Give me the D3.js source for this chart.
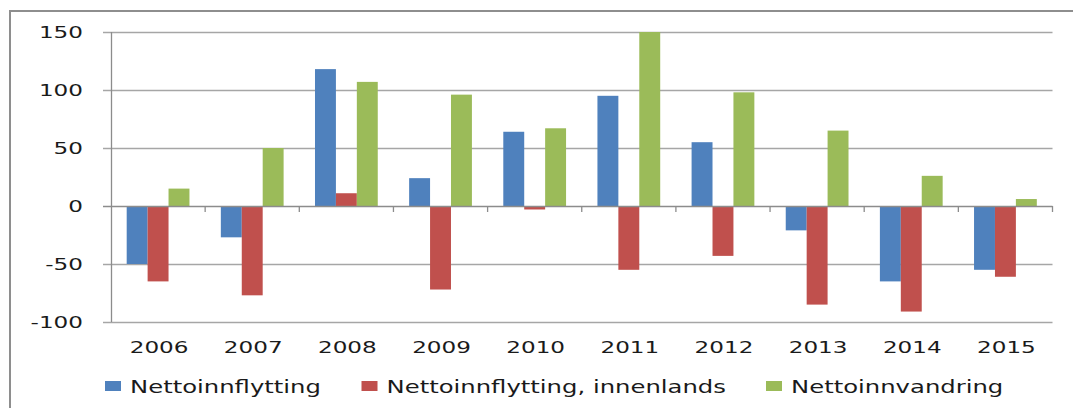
<!DOCTYPE html>
<html>
<head>
<meta charset="utf-8">
<script src="https://cdn.jsdelivr.net/npm/d3@7"></script>
<style>
  html, body { margin: 0; padding: 0; background: #fff; }
  svg { display: block; }
  text { font-family: "DejaVu Sans", sans-serif; fill: #1a1a1a; }
</style>
</head>
<body>
<svg id="chart" width="1073" height="408"></svg>
<script>
const years = ["2006","2007","2008","2009","2010","2011","2012","2013","2014","2015"];
const seriesNames = ["Nettoinnflytting", "Nettoinnflytting, innenlands", "Nettoinnvandring"];
const nettoinnflytting = [-50, -27, 118, 24, 64, 95, 55, -21, -65, -55];
const innenlands = [-65, -77, 11, -72, -3, -55, -43, -85, -91, -61];
const innvandring = [15, 50, 107, 96, 67, 150, 98, 65, 26, 6];
const yTicks = [-100, -50, 0, 50, 100, 150];
const colors = ["#4F81BD", "#C0504D", "#9BBB59"];

const seriesValues = [nettoinnflytting, innenlands, innvandring];
const svg = d3.select("#chart");

// frame
svg.append("path")
  .attr("d", "M10,408 V11 H1073")
  .attr("fill", "none").attr("stroke", "#8e8e8e").attr("stroke-width", 2);

const x = d3.scaleBand().domain(years).range([111, 1052.5]).padding(0);
const xs = d3.scaleBand().domain(d3.range(3)).range([0, x.bandwidth()]).paddingInner(0).paddingOuter(0.75);
const y = d3.scaleLinear().domain([-100, 150]).range([322, 32]);

// gridlines (excluding zero which is the category axis)
svg.append("g").selectAll("line").data(yTicks.filter(t => t !== 0)).join("line")
  .attr("x1", 103).attr("x2", 1052.5)
  .attr("y1", d => Math.round(y(d)) + 0.5).attr("y2", d => Math.round(y(d)) + 0.5)
  .attr("stroke", "#a6a6a6").attr("stroke-width", 1.3);

// bars
const groups = svg.append("g").selectAll("g").data(years).join("g")
  .attr("transform", d => `translate(${x(d)},0)`);
groups.selectAll("rect").data((d, i) => seriesValues.map((s, k) => ({k, v: s[i]}))).join("rect")
  .attr("x", d => xs(d.k))
  .attr("width", xs.bandwidth())
  .attr("y", d => y(Math.max(0, d.v)))
  .attr("height", d => Math.abs(y(d.v) - y(0)))
  .attr("fill", d => colors[d.k]);

// y axis line + ticks
svg.append("line").attr("x1", 111.5).attr("x2", 111.5).attr("y1", y(150)).attr("y2", y(-100))
  .attr("stroke", "#8c8c8c").attr("stroke-width", 1.3);
svg.append("line").attr("x1", 103).attr("x2", 1052.5)
  .attr("y1", Math.round(y(0)) + 0.5).attr("y2", Math.round(y(0)) + 0.5)
  .attr("stroke", "#8c8c8c").attr("stroke-width", 1.3);
svg.append("g").selectAll("line").data(years.slice(1).concat(["end"])).join("line")
  .attr("x1", (d, i) => i < 9 ? x(d) : x.range()[1]).attr("x2", (d, i) => i < 9 ? x(d) : x.range()[1])
  .attr("y1", y(0)).attr("y2", y(0) + 6)
  .attr("stroke", "#8c8c8c").attr("stroke-width", 1.3);

// y tick labels
svg.append("g").selectAll("text").data(yTicks).join("text")
  .attr("transform", d => `translate(83,${y(d) + 5.5}) scale(1.4,1)`)
  .attr("text-anchor", "end")
  .attr("font-size", 16.5)
  .text(d => d);

// x labels
svg.append("g").selectAll("text").data(years).join("text")
  .attr("transform", d => `translate(${x(d) + x.bandwidth() / 2 + 1},352.5) scale(1.4,1)`)
  .attr("text-anchor", "middle")
  .attr("font-size", 16.5)
  .text(d => d);

// legend
const legendX = [105, 361.5, 766];
const lg = svg.append("g").selectAll("g").data(seriesNames).join("g")
  .attr("transform", (d, i) => `translate(${legendX[i]},0)`);
lg.append("rect").attr("x", 0).attr("y", 381).attr("width", 16).attr("height", 10)
  .attr("fill", (d, i) => colors[i]);
lg.append("text")
  .attr("transform", "translate(25,392.5) scale(1.43,1)")
  .attr("font-size", 17)
  .text(d => d);
</script>
</body>
</html>
